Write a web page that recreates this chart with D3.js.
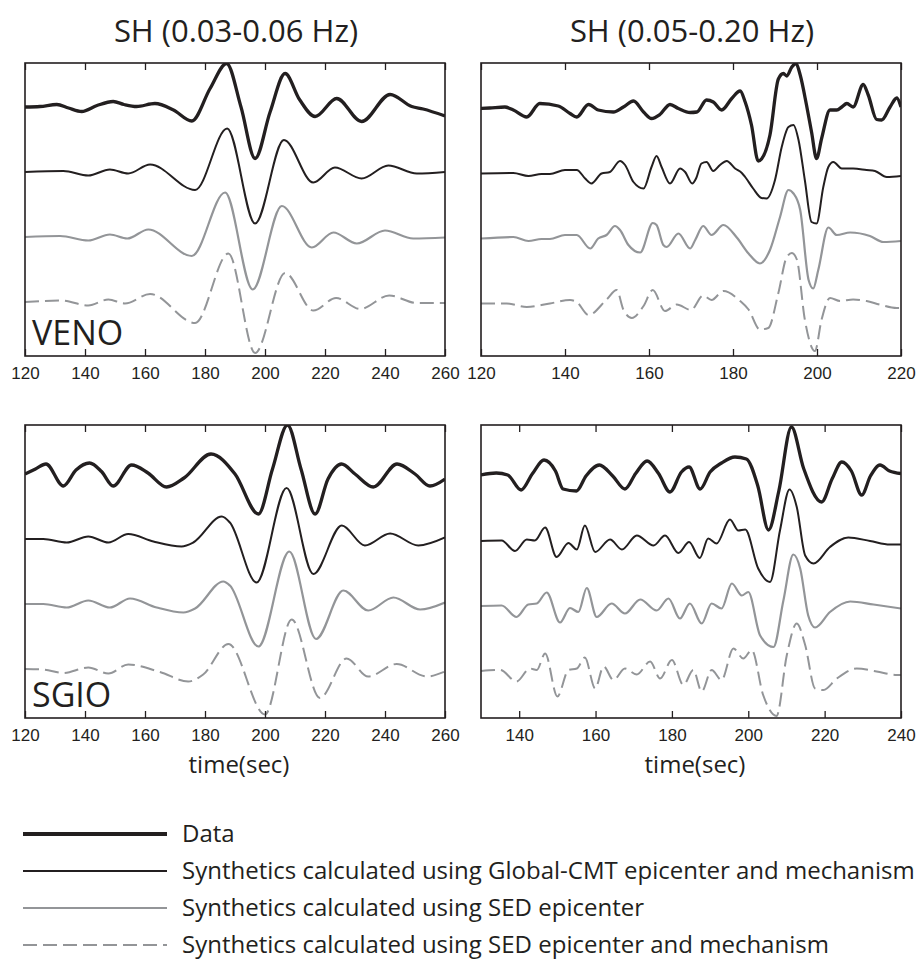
<!DOCTYPE html>
<html>
<head>
<meta charset="utf-8">
<script src="https://cdn.jsdelivr.net/npm/d3@7"></script>
<style>
  body { margin: 0; background: #fff; }
  svg { display: block; }
</style>
</head>
<body>
<svg id="chart" width="918" height="963"></svg>
<script>
// Waveform samples: [time (s), normalized amplitude]

// VENO, SH 0.03-0.06 Hz
const venoLowData = [[120,0],[125,0.01],[130.6,0.05],[134.5,-0.02],[138.9,-0.09],[144,0.03],[149.4,0.11],[153,0.05],[157.2,0.01],[163.3,0.07],[169.5,-0.06],[175.6,-0.28],[181.7,0.37],[187.2,0.87],[192,0.0],[196.7,-1.03],[201.7,-0.1],[206.7,0.67],[211.5,0.15],[216.7,-0.19],[223.9,0.17],[232.2,-0.29],[241.7,0.25],[248.9,0.01],[252.7,-0.04],[260,-0.18]];
const venoLowGcmt = [[120,0],[132.8,0.02],[141.1,-0.07],[148.3,0.05],[154.4,-0.03],[161.7,0.15],[176.7,-0.36],[187.4,0.87],[196.7,-1.03],[206.3,0.64],[216.1,-0.21],[223.3,0.09],[232.2,-0.13],[241.1,0.13],[250.6,-0.03],[260,0]];
const venoLowSed = [[120,0],[131.7,0.02],[141.1,-0.07],[148.3,0.05],[154.1,-0.03],[161.1,0.15],[175.6,-0.38],[186.7,0.89],[195.9,-1.05],[205.6,0.62],[215.6,-0.21],[222.8,0.09],[230.6,-0.13],[240,0.13],[249.4,-0.03],[260,-0.01]];
const venoLowSedMech = [[120,0],[132.2,0.03],[141.1,-0.07],[147.8,0.05],[153.3,-0.03],[161.7,0.16],[176.7,-0.42],[187.8,0.97],[196.7,-1.02],[206.7,0.58],[216.1,-0.17],[223.7,0.08],[231.7,-0.14],[241.4,0.13],[250.6,-0.02],[260,-0.02]];

// VENO, SH 0.05-0.20 Hz
const venoHighData = [[120,0],[122.1,0.01],[125.7,0.03],[127.7,-0.03],[130.9,-0.17],[134,0.1],[138.4,0.05],[141.2,-0.1],[142.8,-0.17],[145.6,0.08],[147.9,-0.03],[151.5,-0.07],[153.9,0.03],[156.3,0.15],[158.7,-0.07],[160.6,-0.2],[162.6,-0.12],[165,0.08],[167,0],[169.8,-0.08],[171.4,-0.07],[173.7,0.17],[175.3,0.13],[177.3,-0.03],[179.7,0.2],[181.7,0.35],[182.9,0.13],[184.4,-0.33],[186,-1.05],[186.8,-1.01],[188.8,-0.53],[190.8,0.59],[192,0.7],[192.8,0.65],[194,0.83],[195,0.9],[196,0.67],[197.5,0.07],[198.7,-0.47],[199.9,-1.0],[201.1,-0.6],[203.1,-0.03],[204.7,-0.03],[205.9,0.03],[207.1,0.1],[208.6,0.03],[211,0.48],[212.2,0.27],[214.2,-0.22],[215.4,-0.23],[217.4,0.03],[219,0.21],[220,0.03]];
const venoHighGcmt = [[120,0],[127.7,0.01],[131.3,-0.05],[134.4,-0.01],[136.4,-0.01],[140,0.07],[142.8,0.07],[144.8,-0.1],[146.3,-0.2],[148.7,0],[150.7,0.03],[153.1,0.25],[154.3,0.17],[156.3,-0.17],[158.7,-0.3],[160.6,0.13],[161.8,0.35],[163,0.13],[165,-0.2],[167.4,0.1],[168.6,0.03],[170.3,-0.2],[171.2,-0.1],[172.5,0.2],[173.7,0.23],[175.3,0.05],[176.9,0.17],[178.5,0.25],[180.5,0.1],[182.1,0.01],[182.9,-0.07],[184.8,-0.3],[186.8,-0.49],[188,-0.5],[190,-0.13],[191.6,0.53],[193.2,0.93],[194.4,0.97],[195.6,0.67],[197.1,-0.13],[198.7,-0.97],[199.9,-1.0],[201.5,-0.27],[202.7,0.13],[203.9,0.23],[205.9,0.1],[208.6,0.1],[211.8,0.07],[213.8,0.05],[216.6,-0.07],[220,-0.05]];
const venoHighSed = [[120,0],[127.7,0.03],[131.3,-0.05],[134.4,-0.01],[136.4,-0.01],[140,0.07],[142.8,0.07],[146,-0.2],[147.9,0],[149.9,0.07],[151.9,0.25],[153.1,0.17],[155.1,-0.13],[157.9,-0.28],[160.9,0.31],[161.8,0.27],[163.4,-0.13],[164.2,-0.17],[167,0.1],[169.8,-0.2],[171,-0.03],[172.9,0.25],[174.9,0.07],[177.7,0.27],[180.9,0.02],[183.7,-0.3],[186.4,-0.5],[188.8,-0.23],[191.2,0.43],[193.2,0.97],[194.4,0.9],[196,0.57],[198,-0.83],[199.1,-1.0],[200.3,-0.63],[202.7,0.22],[204.7,0.07],[207.9,0.12],[212.6,0.05],[215.8,-0.07],[220,-0.05]];
const venoHighSedMech = [[120,0],[126.1,0],[130.9,-0.07],[136.4,0],[141.2,0.07],[142.8,0.03],[145.6,-0.23],[149.9,0.08],[152.3,0.27],[153.9,-0.12],[155.9,-0.29],[158.7,-0.05],[160.9,0.27],[163.8,-0.15],[166.6,-0.02],[170,-0.13],[172.9,0.16],[174.9,0.07],[177.7,0.25],[181.7,0.05],[183.7,-0.12],[186.4,-0.52],[188.4,-0.49],[190.8,0.21],[192.8,0.93],[194,1.01],[195.2,0.88],[197.1,-0.32],[199.5,-0.95],[201.1,-0.32],[203.1,0.11],[205.5,0.05],[208.6,0.08],[211.8,0.05],[214.9,-0.02],[219,-0.09],[220,-0.09]];

// SGIO, SH 0.03-0.06 Hz
const sgioLowData = [[120,0],[123.5,0.1],[127,0.2],[132.8,-0.24],[137,0.08],[141.5,0.22],[145.5,0.05],[149.4,-0.24],[155.5,0.18],[161,0.02],[167.2,-0.26],[173,-0.08],[182,0.4],[190,0],[197.8,-0.8],[202.5,0.1],[207.5,0.98],[212,0.1],[216.7,-0.8],[221,-0.1],[225.5,0.2],[230,0],[236.1,-0.26],[244,0.2],[250,0],[255,-0.24],[260,-0.1]];
const sgioLowGcmt = [[120,0],[126.1,0],[133.9,-0.07],[141.1,0.05],[147.8,-0.07],[154.4,0.1],[162.8,-0.05],[172.2,-0.15],[176.1,-0.07],[185.6,0.45],[188.3,0.33],[197.2,-0.87],[207.2,1.02],[216.1,-0.7],[225.6,0.27],[233.3,-0.13],[241.7,0.11],[251.1,-0.13],[260,0.03]];
const sgioLowSed = [[120,0],[126.1,0],[133.9,-0.07],[141.1,0.07],[148.3,-0.07],[155,0.11],[163.9,-0.07],[172.8,-0.17],[176.7,-0.09],[186.1,0.45],[188.3,0.37],[197.8,-0.85],[208.1,1.05],[217,-0.7],[226.1,0.27],[234.4,-0.13],[242.8,0.13],[251.7,-0.11],[260,0.03]];
const sgioLowSedMech = [[120,0],[126.1,-0.01],[132.8,-0.08],[141.1,0.03],[147.8,-0.09],[154.4,0.09],[165,-0.06],[174.4,-0.25],[179.4,-0.11],[187.8,0.5],[200,-0.91],[208.9,0.99],[218.3,-0.58],[227.2,0.21],[234.4,-0.15],[243.9,0.1],[253.9,-0.15],[260,-0.05]];

// SGIO, SH 0.05-0.20 Hz
const sgioHighData = [[130,0.02],[134,0.06],[137,0.02],[140.5,-0.28],[143.5,0.05],[146.5,0.32],[149.5,0.1],[151.5,-0.26],[155,-0.3],[157.5,0],[161,0.22],[164.5,0],[167.7,-0.26],[170.5,0.05],[173.5,0.3],[176.5,0.05],[179.5,-0.32],[182.5,0.08],[184.5,0.18],[187.4,-0.26],[190,0.08],[193,0.26],[196.5,0.38],[199.5,0.34],[202.5,-0.2],[205.3,-1.08],[208,-0.3],[211.3,0.98],[214.5,0.15],[219.2,-0.52],[222,-0.05],[224.5,0.28],[227,0.1],[229.7,-0.38],[232,0],[234.5,0.22],[237,0.1],[240,0.05]];
const sgioHighGcmt = [[130,0],[135.4,0.01],[138.9,-0.2],[142,0.03],[144.1,0.01],[146.8,0.27],[149.8,-0.32],[152.9,-0.04],[155.1,-0.17],[157.2,0.31],[159.9,-0.22],[163.8,0.03],[166.9,-0.17],[170.8,0.11],[175.2,-0.09],[178.2,0.11],[181.7,-0.24],[184.5,-0.02],[187.3,-0.34],[189.5,0.05],[191.7,-0.05],[195.2,0.43],[197.4,0.21],[199.2,0.23],[202.6,-0.55],[205.7,-0.82],[208.3,0.21],[210.8,1.03],[212.7,0.68],[214.9,-0.29],[217.1,-0.45],[221.4,-0.12],[226.2,0.07],[231.9,0],[237.1,-0.07],[240,-0.07]];
const sgioHighSed = [[130,0],[135.4,0.01],[139.3,-0.22],[142.4,0.03],[144.6,0.05],[147.2,0.27],[150.7,-0.33],[153.3,-0.04],[155.5,-0.12],[157.7,0.36],[160.3,-0.22],[164.2,0.05],[167.7,-0.15],[171.7,0.13],[176,-0.09],[179.1,0.15],[182.1,-0.25],[184.7,0.05],[187.8,-0.35],[190.4,0.05],[193,-0.05],[195.7,0.45],[198.3,0.21],[200,0.28],[203.1,-0.59],[206.6,-0.82],[209.2,0.11],[211.8,1.03],[213.6,0.75],[215.7,-0.19],[217.5,-0.43],[221.4,-0.12],[226.7,0.09],[232.8,0.03],[240,-0.05]];
const sgioHighSedMech = [[130,0],[135,0.02],[139.3,-0.21],[142.8,0.05],[144.6,0.02],[146.8,0.35],[150,-0.51],[152.9,0.02],[155.1,0.05],[157.2,0.27],[159.9,-0.35],[162.1,0.09],[164.7,-0.18],[167.7,0.05],[170.8,-0.07],[174.3,0.19],[176.9,-0.15],[180,0.22],[183,-0.28],[185.6,0.02],[187.8,-0.41],[190.4,0.02],[193,-0.18],[196.1,0.45],[198.7,0.25],[200.9,0.42],[203.9,-0.48],[207.4,-0.9],[210.1,0.32],[212.7,0.95],[214.9,0.52],[217.5,-0.35],[219.7,-0.38],[223.2,-0.15],[228.4,0.05],[233.6,-0.01],[238.9,-0.08],[240,-0.08]];

// Axis ticks
const ticksLowBand = [120, 140, 160, 180, 200, 220, 240, 260];
const ticksVenoHigh = [120, 140, 160, 180, 200, 220];
const ticksSgioHigh = [140, 160, 180, 200, 220, 240];

const bandTitles = ["SH (0.03-0.06 Hz)", "SH (0.05-0.20 Hz)"];
const stations = ["VENO", "SGIO"];
const seriesNames = [
  "Data",
  "Synthetics calculated using Global-CMT epicenter and mechanism",
  "Synthetics calculated using SED epicenter",
  "Synthetics calculated using SED epicenter and mechanism"
];
const axisTitle = "time(sec)";

// ---- drawing ----
const INK = "#231f20", GREY = "#939598";
const SANS = "'Open Sans', 'Noto Sans', sans-serif";
const TICK_FONT = "'Liberation Sans', Arial, sans-serif";
const seriesStyle = [
  { color: INK,  width: 3.3, dash: null },
  { color: INK,  width: 2.0, dash: null },
  { color: GREY, width: 2.2, dash: null },
  { color: GREY, width: 2.0, dash: "14,6" }
];

const PANEL_W = 420, PANEL_H = 293;
const UNIT = 50;          // pixels per amplitude unit
const TRACE_GAP = 1.3;    // vertical separation between traces, in amplitude units

const panels = [
  { x: 25,  y: 63,  domain: [120, 260], ticks: ticksLowBand,  top: 0.88, station: stations[0],
    traces: [venoLowData, venoLowGcmt, venoLowSed, venoLowSedMech] },
  { x: 481, y: 63,  domain: [120, 220], ticks: ticksVenoHigh, top: 0.91, station: null,
    traces: [venoHighData, venoHighGcmt, venoHighSed, venoHighSedMech] },
  { x: 25,  y: 425, domain: [120, 260], ticks: ticksLowBand,  top: 0.98, station: stations[1], xTitle: true,
    traces: [sgioLowData, sgioLowGcmt, sgioLowSed, sgioLowSedMech] },
  { x: 481, y: 425, domain: [130, 240], ticks: ticksSgioHigh, top: 1.02, station: null, xTitle: true,
    traces: [sgioHighData, sgioHighGcmt, sgioHighSed, sgioHighSedMech] }
];

const svg = d3.select("#chart");
const defs = svg.append("defs");

panels.forEach((p, pi) => {
  const g = svg.append("g").attr("transform", `translate(${p.x},${p.y})`);
  const x = d3.scaleLinear().domain(p.domain).range([0, PANEL_W]);
  const y = d3.scaleLinear().domain([p.top, p.top - PANEL_H / UNIT]).range([0, PANEL_H]);

  const clipId = "clip-" + pi;
  defs.append("clipPath").attr("id", clipId)
    .append("rect").attr("x", 0).attr("y", 0).attr("width", PANEL_W).attr("height", PANEL_H);

  const traces = g.append("g").attr("clip-path", `url(#${clipId})`);
  // draw lowest trace first so the data trace sits on top
  for (let i = p.traces.length - 1; i >= 0; i--) {
    const st = seriesStyle[i];
    const line = d3.line()
      .x(d => x(d[0]))
      .y(d => y(d[1] - i * TRACE_GAP))
      .curve(d3.curveMonotoneX);
    traces.append("path")
      .datum(p.traces[i])
      .attr("d", line)
      .attr("fill", "none")
      .attr("stroke", st.color)
      .attr("stroke-width", st.width)
      .attr("stroke-linejoin", "round")
      .attr("stroke-linecap", "butt")
      .attr("stroke-dasharray", st.dash);
  }

  // bottom axis with inward ticks and labels
  const bottom = g.append("g").attr("transform", `translate(0,${PANEL_H})`)
    .call(d3.axisBottom(x).tickValues(p.ticks).tickSizeInner(-7).tickSizeOuter(0).tickPadding(11));
  // top axis, ticks only
  const topAx = g.append("g")
    .call(d3.axisTop(x).tickValues(p.ticks).tickSizeInner(-7).tickSizeOuter(0).tickFormat(""));
  [bottom, topAx].forEach(a => {
    a.select(".domain").remove();
    a.selectAll(".tick line").attr("stroke", INK).attr("stroke-width", 1.3);
  });
  bottom.selectAll(".tick text")
    .attr("fill", INK)
    .style("font-family", TICK_FONT)
    .style("font-size", "17px");

  // frame
  g.append("rect")
    .attr("x", 0).attr("y", 0).attr("width", PANEL_W).attr("height", PANEL_H)
    .attr("fill", "none").attr("stroke", INK).attr("stroke-width", 1.6);

  if (p.station) {
    g.append("text")
      .attr("x", 7).attr("y", PANEL_H - 11)
      .attr("fill", INK)
      .style("font-family", SANS)
      .style("font-size", "34px")
      .text(p.station);
  }

  if (p.xTitle) {
    g.append("text")
      .attr("x", PANEL_W / 2 + 4).attr("y", PANEL_H + 55)
      .attr("text-anchor", "middle")
      .attr("fill", INK)
      .style("font-family", SANS)
      .style("font-size", "24px")
      .text(axisTitle);
  }
});

// column titles
bandTitles.forEach((t, i) => {
  svg.append("text")
    .attr("x", panels[i].x + PANEL_W / 2 + 1).attr("y", 42)
    .attr("text-anchor", "middle")
    .attr("fill", INK)
    .style("font-family", SANS)
    .style("font-size", "31px")
    .text(t);
});

// legend
const legend = svg.append("g").attr("transform", "translate(23,834)");
seriesNames.forEach((name, i) => {
  const row = legend.append("g").attr("transform", `translate(0,${i * 37})`);
  const st = seriesStyle[i];
  row.append("line")
    .attr("x1", 0).attr("x2", 144).attr("y1", 0).attr("y2", 0)
    .attr("stroke", st.color)
    .attr("stroke-width", i === 0 ? 4 : 2)
    .attr("stroke-dasharray", st.dash);
  row.append("text")
    .attr("x", 159).attr("y", 8)
    .attr("fill", INK)
    .style("font-family", SANS)
    .style("font-size", "24px")
    .text(name);
});
</script>
</body>
</html>
